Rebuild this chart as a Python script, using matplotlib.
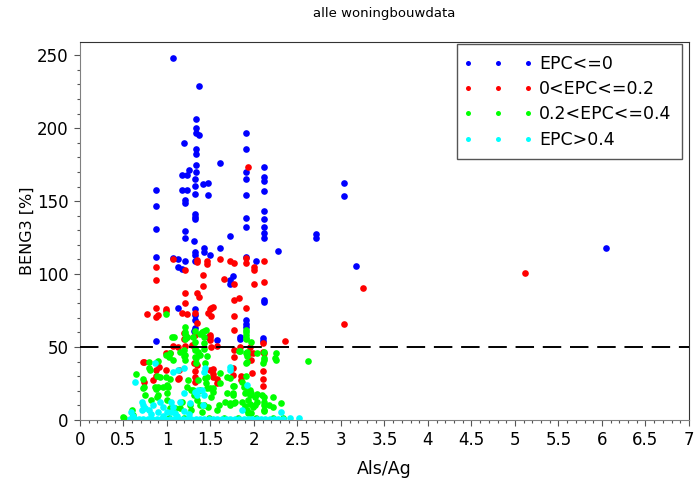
import numpy as np
import matplotlib
matplotlib.use("Agg")
import matplotlib.pyplot as plt
from matplotlib.legend_handler import HandlerLine2D

# -----------------------------
# Data (Als/Ag, BENG3 [%])
# -----------------------------
epc_le0 = [
    (1.07, 248), (1.37, 229), (1.33, 206), (1.33, 200), (1.33, 197), (1.37, 195),
    (1.20, 189.5), (1.33, 185.6), (1.33, 182), (1.91, 197), (1.91, 185.6), (1.61, 176),
    (1.33, 174.7), (1.91, 170), (2.11, 173.5), (1.25, 171), (1.33, 170), (1.17, 167.6),
    (1.23, 167.6), (1.32, 165), (1.91, 165), (2.11, 166.7), (2.11, 164), (1.47, 162.5),
    (1.41, 161.4), (1.32, 160.5), (0.87, 157.5), (1.17, 157.5), (1.23, 157.5), (1.32, 155),
    (1.47, 154), (1.91, 154), (2.11, 156.6), (1.21, 151), (0.87, 146.6), (1.21, 149),
    (1.32, 141.5), (1.32, 139), (1.32, 137.7), (1.91, 138.4), (1.91, 132.4), (2.11, 143.4),
    (2.11, 138), (2.11, 132.4), (2.11, 127.9), (2.11, 124.9), (0.87, 130.8), (1.21, 129.7),
    (1.21, 124.9), (1.31, 122.6), (1.72, 126), (2.71, 127.4), (2.71, 124.9), (1.43, 117.8),
    (1.43, 115), (1.49, 112.8), (1.32, 115), (1.32, 112.8), (1.32, 109), (1.61, 117.6),
    (2.28, 116), (0.87, 111.6), (1.91, 111.9), (2.02, 109), (1.07, 110.7), (1.13, 110),
    (1.21, 109), (1.13, 105), (1.17, 103.2), (1.76, 99), (1.73, 96), (1.73, 93),
    (2.11, 82.2), (2.11, 81), (1.13, 76.5), (1.32, 75.8), (3.03, 162.5), (3.03, 153.2),
    (3.17, 105.7), (6.05, 117.6), (1.91, 68.5), (1.91, 65.8), (1.91, 64), (1.84, 57),
    (1.84, 55.3), (2.10, 56), (2.10, 54.3), (0.87, 54), (1.31, 60.7), (1.47, 57),
    (1.57, 54.8), (1.32, 72), (1.32, 68.5), (1.32, 62.8),
]

epc_0_02 = [
    (1.93, 173.5), (1.07, 110), (1.35, 109.6), (1.35, 108), (1.46, 109), (1.46, 107),
    (1.61, 110), (1.72, 109), (1.77, 107.7), (1.91, 110.7), (1.91, 107.7), (2.11, 109),
    (0.87, 105), (0.87, 96), (1.21, 102.7), (1.41, 99.5), (1.41, 91.8), (1.66, 96.6),
    (1.77, 93), (2.00, 105), (2.00, 102.7), (2.00, 93), (2.11, 94.7), (1.21, 87.2),
    (1.21, 80), (1.34, 87.2), (1.37, 84.5), (1.77, 82.2), (1.83, 83.3), (1.91, 76.5),
    (0.87, 76.5), (0.99, 75.8), (1.53, 77.6), (1.50, 75.8), (0.77, 72.6), (0.87, 70.5),
    (0.90, 72), (0.99, 74.8), (1.17, 73), (1.23, 72.6), (1.32, 73), (1.47, 73),
    (1.51, 76.5), (1.51, 71.2), (1.35, 66.6), (1.77, 71.2), (1.77, 62), (1.49, 58),
    (1.32, 58), (1.23, 57), (1.13, 50.2), (0.99, 45.7), (1.04, 45.7), (1.21, 50.7),
    (1.51, 50.2), (1.57, 50.9), (1.77, 48), (1.77, 43), (1.95, 50.2), (1.95, 45.7),
    (1.97, 41), (2.10, 52.5), (2.10, 46.8), (2.36, 54), (0.74, 40), (0.88, 40),
    (0.87, 34.2), (0.99, 34.2), (1.13, 28), (1.32, 33.8), (1.32, 29.7), (1.32, 26.2),
    (1.53, 34.7), (1.53, 31.5), (1.57, 27.9), (1.85, 30.1), (1.85, 27.4), (1.98, 32.4),
    (2.10, 33.8), (2.10, 27.9), (2.10, 23.5), (0.74, 26.2), (0.84, 27.4), (1.19, 59.4),
    (1.19, 55.3), (1.29, 51.4), (1.07, 50.7), (1.50, 57), (1.50, 54.8), (2.11, 45.7),
    (0.73, 40), (0.91, 36.5), (0.87, 30.1), (1.31, 38.8), (1.34, 37.7), (1.14, 34.2),
    (1.14, 28.5), (1.49, 34.2), (1.53, 29.7), (1.57, 25.5), (1.76, 35.4), (1.76, 30.8),
    (1.99, 45.7), (1.92, 45.7), (1.84, 50.2), (5.12, 100.7), (3.25, 90.6), (3.03, 65.5),
]

epc_02_04 = [
    (0.99, 72.6), (1.21, 64), (1.21, 60.5), (1.32, 61.2), (1.40, 60), (1.45, 61.6),
    (1.91, 60.3), (1.91, 58.2), (1.23, 57), (1.43, 56.6), (1.08, 57), (1.30, 56.6),
    (1.32, 53.6), (1.32, 49), (1.36, 46.8), (1.42, 52.5), (1.43, 48.4), (1.15, 46.8),
    (1.21, 44.5), (1.97, 53.6), (1.92, 46.8), (1.92, 40), (2.11, 46.8), (2.11, 41),
    (2.10, 38.8), (2.25, 45.7), (2.25, 41), (2.62, 40.6), (0.79, 39.5), (0.90, 40.6),
    (1.02, 43.4), (1.07, 41), (1.33, 42.2), (1.33, 38.8), (1.44, 38.8), (1.24, 27.4),
    (1.36, 27.4), (1.44, 28.5), (0.64, 31.5), (0.73, 28), (0.88, 30.1), (0.92, 29.2),
    (0.99, 29.2), (1.04, 28), (0.86, 22.4), (0.90, 22.4), (0.96, 22.4), (1.01, 22.4),
    (0.74, 22.4), (1.30, 20.5), (1.38, 20.5), (1.46, 21.7), (1.53, 21.7), (1.61, 32.4),
    (1.69, 29.7), (1.76, 23.3), (1.76, 18.3), (1.86, 26.2), (1.91, 30.1), (1.95, 20.5),
    (1.95, 17.1), (2.01, 16), (2.11, 16), (2.11, 10.3), (2.11, 6.8), (2.31, 11.4),
    (0.60, 6.8), (0.50, 1.8), (1.06, 57), (1.21, 59), (1.21, 55.3), (1.38, 59),
    (1.42, 60.7), (1.91, 56), (0.99, 44.5), (1.03, 45.7), (1.19, 48), (1.19, 43.8),
    (1.21, 41), (1.32, 48), (1.32, 43.4), (1.38, 44.5), (1.46, 43.8), (1.84, 47.5),
    (1.92, 43.8), (2.04, 45.7), (2.24, 42.2), (0.79, 35.4), (0.80, 34.2), (1.00, 24),
    (0.87, 21), (0.90, 17.1), (1.23, 22.8), (1.28, 20.5), (1.31, 17.1), (1.35, 13.7),
    (1.38, 10.3), (1.46, 29.7), (1.45, 25.1), (1.49, 21.7), (1.53, 19.4), (1.51, 16),
    (1.61, 25.1), (1.72, 28.5), (1.69, 18.3), (1.76, 17.1), (1.78, 12.5), (1.72, 10.3),
    (1.60, 10.3), (1.57, 6.8), (1.47, 9.1), (1.42, 10.3), (1.40, 5.7), (1.28, 6.8),
    (1.27, 10.3), (1.17, 12.5), (1.15, 8), (1.00, 18.3), (1.00, 13.7), (1.03, 8),
    (1.09, 8), (0.88, 16), (0.82, 13.7), (0.73, 21.7), (0.75, 17.1), (0.61, 3.4),
    (1.88, 22.8), (1.92, 19.4), (1.97, 18.3), (1.93, 13.7), (2.03, 12.5), (1.99, 9.1),
    (1.92, 6.8), (2.09, 17.1), (2.11, 12.5), (2.22, 16), (2.22, 8.7), (1.67, 12.5),
    (1.72, 11.4), (0.51, 1.1), (1.91, 61.6), (1.91, 55.3), (1.91, 45.7), (1.91, 38.8),
    (2.11, 42.2), (1.83, 47), (1.77, 23.5), (1.90, 18.3), (2.03, 17.8), (2.17, 10.3),
    (2.11, 6.4), (1.77, 11.4), (1.86, 12.5), (1.90, 9.6), (1.95, 11), (2.01, 10.3),
    (1.93, 5), (1.97, 4.6), (1.02, 1.5), (1.20, 1.5), (1.48, 1.5), (1.66, 1.5),
    (1.82, 1.5), (2.02, 1.5), (2.22, 1.5), (2.33, 1.5),
]

epc_gt04 = [
    (0.86, 38.8), (0.63, 26.2), (1.07, 33), (1.13, 34.2), (1.19, 35.4), (1.44, 35.4),
    (1.42, 33), (1.72, 36.5), (1.72, 34.2), (1.92, 24), (1.19, 18.3), (1.32, 19.4),
    (1.34, 17.1), (1.40, 20.5), (1.42, 17.1), (1.36, 20.5), (1.26, 11.4), (1.15, 12.5),
    (1.41, 10.3), (0.71, 12.5), (0.73, 10.3), (0.71, 6.8), (0.79, 6.8), (0.84, 10.3),
    (0.92, 12.5), (0.96, 9.1), (1.00, 5.7), (0.90, 5.7), (1.05, 12.5), (1.07, 9.1),
    (1.05, 5.7), (1.09, 4.6), (0.59, 5.7), (0.61, 2.7), (1.86, 6.8), (2.31, 5.7),
    (0.75, 8), (0.82, 4), (0.95, 3), (1.12, 3), (1.20, 6), (1.25, 4),
    (2.41, 1.1), (2.52, 1.1),
    (0.58, 0.5), (0.63, 0.5), (0.68, 0.5), (0.73, 0.5), (0.78, 0.5), (0.83, 0.5),
    (0.88, 0.5), (0.93, 0.5), (0.98, 0.5), (1.03, 0.5), (1.08, 0.5), (1.13, 0.5),
    (1.18, 0.5), (1.23, 0.5), (1.28, 0.5), (1.33, 0.5), (1.38, 0.5), (1.43, 0.5),
    (1.48, 0.5), (1.53, 0.5), (1.58, 0.5), (1.63, 0.5), (1.68, 0.5), (1.73, 0.5),
    (1.78, 0.5), (1.83, 0.5), (1.88, 0.5), (1.93, 0.5), (1.98, 0.5), (2.03, 0.5),
    (2.08, 0.5), (2.13, 0.5), (2.18, 0.5), (2.23, 0.5), (2.28, 0.5), (2.33, 0.5),
]

series = [
    (epc_le0, "#0000ff", "EPC<=0"),
    (epc_0_02, "#ff0000", "0<EPC<=0.2"),
    (epc_02_04, "#00ff00", "0.2<EPC<=0.4"),
    (epc_gt04, "#00ffff", "EPC>0.4"),
]
BENG3_LIMIT = 50

# -----------------------------
# Plot
# -----------------------------
plt.rcParams["font.family"] = "DejaVu Sans"

fig = plt.figure(figsize=(6.96, 4.79), dpi=100)
ax = fig.add_axes([0.1149, 0.1232, 0.875, 0.789])

for pts, color, label in series:
    arr = np.array(pts)
    ax.plot(arr[:, 0], arr[:, 1], linestyle="none", marker="o", ms=4.8,
            mew=0, color=color, label=label)

ax.axhline(BENG3_LIMIT, color="black", lw=1.4, dashes=(9.5, 4.5), zorder=5)

ax.set_xlim(0, 7)
ax.set_ylim(0, 259)
ax.set_xticks(np.arange(0, 7.01, 0.5))
ax.set_xticklabels(["0", "0.5", "1", "1.5", "2", "2.5", "3", "3.5", "4",
                    "4.5", "5", "5.5", "6", "6.5", "7"])
ax.set_xticks(np.arange(0, 7.01, 0.1), minor=True)
ax.set_yticks(np.arange(0, 251, 50))
ax.set_yticks(np.arange(0, 251, 10), minor=True)

ax.tick_params(which="major", direction="out", length=4, width=0.8,
               color="#555555", labelsize=12, pad=4)
ax.tick_params(which="minor", direction="out", length=2, width=0.8,
               color="#555555")
for side in ["left", "bottom"]:
    ax.spines[side].set_color("#808080")
for side in ["top", "right"]:
    ax.spines[side].set_color("#333333")

ax.set_title("alle woningbouwdata", fontsize=9.5, pad=18)
ax.set_xlabel("Als/Ag", fontsize=12.5, labelpad=8)
ax.set_ylabel("BENG3 [%]", fontsize=11.5, labelpad=1.5)

leg = ax.legend(loc="upper right", bbox_to_anchor=(0.9885, 0.995),
                borderaxespad=0, fontsize=12.5, numpoints=3, markerscale=0.75,
                handlelength=3.46, handletextpad=0.63, labelspacing=0.42,
                borderpad=0.62, fancybox=False, framealpha=1,
                handler_map={plt.Line2D: HandlerLine2D(marker_pad=0, numpoints=3)})
leg.get_frame().set_edgecolor("#555555")
leg.get_frame().set_linewidth(1.0)

plt.savefig("out.png", dpi=100)
